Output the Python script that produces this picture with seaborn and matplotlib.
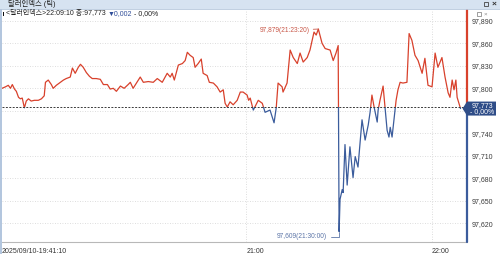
import matplotlib
matplotlib.use("Agg")
import matplotlib.pyplot as plt
import seaborn as sns
import pandas as pd
from matplotlib.patches import Rectangle, Polygon
from matplotlib.lines import Line2D
import matplotlib.transforms as mtrans

# ---------------- data ----------------
minutes_from_2100 = [
    -78.8, -77.7, -76.8, -76.1, -75.5, -74.8, -74.2, -73.5, -72.9, -72.3,
    -71.6, -71.0, -70.3, -69.4, -68.4, -67.1, -66.1, -65.2, -64.8, -63.9,
    -62.9, -62.3, -61.3, -60.0, -59.0, -58.1, -56.8, -56.1, -55.2, -54.2,
    -53.5, -52.6, -51.6, -50.6, -49.7, -48.4, -47.1, -46.1, -44.8, -43.9,
    -42.9, -41.9, -40.6, -39.4, -38.1, -37.4, -36.5, -34.2, -33.2, -31.6,
    -30.0, -28.7, -27.1, -25.5, -24.5, -23.9, -23.2, -21.9, -20.6, -19.7,
    -19.0, -18.1, -17.1, -16.5, -15.5, -14.5, -13.9, -12.6, -11.9, -10.6,
    -9.4, -8.4, -7.4, -6.8, -6.1, -5.2, -4.2, -2.9, -1.9, -1.0,
    0.3, 0.8, 1.3, 2.3, 3.9, 5.2, 6.1, 7.7, 9.0, 9.7,
    10.3, 11.6, 11.9, 13.2, 14.2, 15.2, 16.5, 17.4, 18.4, 19.7,
    20.6, 21.3, 21.9, 22.6, 23.3, 24.5, 25.5, 27.1, 28.1, 29.0,
    29.7, 30.0, 30.3, 31.0, 31.3, 31.9, 32.6, 33.5, 34.5, 35.2,
    36.1, 37.4, 38.4, 39.4, 40.0, 40.6, 41.3, 42.3, 42.6, 43.2,
    44.2, 44.8, 45.5, 46.1, 46.5, 47.1, 47.7, 48.4, 49.0, 49.7,
    50.6, 51.9, 52.6, 53.5, 54.5, 55.5, 56.8, 57.7, 58.7, 60.0,
    61.0, 61.9, 63.2, 64.2, 65.2, 65.8, 66.5, 67.1, 67.7, 68.1,
    69.2,
]
values = [
    97.800, 97.802, 97.804, 97.800, 97.805, 97.799, 97.796, 97.788, 97.786, 97.787,
    97.774, 97.783, 97.786, 97.783, 97.784, 97.784, 97.786, 97.790, 97.808, 97.811,
    97.805, 97.800, 97.804, 97.808, 97.811, 97.813, 97.815, 97.827, 97.820, 97.828,
    97.832, 97.828, 97.821, 97.816, 97.813, 97.813, 97.812, 97.805, 97.805, 97.799,
    97.800, 97.796, 97.803, 97.800, 97.805, 97.808, 97.800, 97.815, 97.808, 97.809,
    97.808, 97.813, 97.808, 97.820, 97.815, 97.820, 97.811, 97.831, 97.833, 97.837,
    97.848, 97.844, 97.841, 97.828, 97.833, 97.839, 97.820, 97.817, 97.808, 97.807,
    97.802, 97.795, 97.798, 97.780, 97.775, 97.782, 97.778, 97.784, 97.795, 97.795,
    97.791, 97.784, 97.787, 97.771, 97.784, 97.780, 97.768, 97.771, 97.754, 97.774,
    97.807, 97.802, 97.795, 97.807, 97.851, 97.841, 97.833, 97.847, 97.835, 97.841,
    97.851, 97.864, 97.875, 97.871, 97.879, 97.860, 97.853, 97.851, 97.837, 97.847,
    97.857, 97.609, 97.652, 97.665, 97.661, 97.725, 97.671, 97.722, 97.681, 97.709,
    97.695, 97.758, 97.731, 97.751, 97.768, 97.791, 97.775, 97.755, 97.771, 97.784,
    97.803, 97.775, 97.744, 97.735, 97.748, 97.735, 97.758, 97.784, 97.798, 97.808,
    97.807, 97.808, 97.873, 97.864, 97.844, 97.837, 97.820, 97.840, 97.804, 97.802,
    97.847, 97.828, 97.841, 97.815, 97.794, 97.788, 97.811, 97.798, 97.811, 97.788,
    97.773,
]
prev_close = 97.775
last_value = 97.773
ytick_values = [97.620, 97.650, 97.680, 97.710, 97.740, 97.770, 97.800, 97.830, 97.860, 97.890]
xtick_minutes = [-78.83, 0, 60]
xtick_labels = ["2025/09/10-19:41:10", "21:00", "22:00"]
high_point = (23.3, 97.879)
low_point = (30.0, 97.609)
high_label = "97,879(21:23:20)"
low_label = "97,609(21:30:00)"
window_title = "달러인덱스 (틱)"
info_parts = ["<달러인덱스>22:09:10 종:97,773 ", "▼0,002", " - 0,00%"]
last_box_lines = ["97,773", "- 0,00%"]

df = pd.DataFrame({"minute": minutes_from_2100, "value": values})

# ---------------- style ----------------
sns.set_style("white")
plt.rcParams["font.family"] = ["Liberation Sans", "Noto Sans CJK KR", "DejaVu Sans"]

RED = "#d8412c"
BLUE = "#3b5c9c"
W, H = 500, 254

def fx(px):
    return px / W

def fy(py):
    return 1 - py / H

fig = plt.figure(figsize=(5.0, 2.54), dpi=100)
fig.patch.set_facecolor("white")

ax = fig.add_axes([fx(2), fy(242), fx(465), 232 / H])
ax.set_facecolor("white")
xlim = (-78.71, 71.29)
ylim = (97.5951, 97.9044)
ax.set_xlim(*xlim)
ax.set_ylim(*ylim)

# grid
for yv in ytick_values:
    ax.axhline(yv, color="#d2d2d2", lw=0.6, ls=(0, (1, 2)), zorder=0)
for xv in xtick_minutes[1:]:
    ax.axvline(xv, color="#d2d2d2", lw=0.6, ls=(0, (1, 2)), zorder=0)

# price line, red above previous close and blue below
sns.lineplot(data=df, x="minute", y="value", color=RED, lw=0.9, sort=False,
             estimator=None, ax=ax, zorder=3)
red_line = ax.lines[-1]
red_line.set_clip_path(Rectangle((xlim[0], prev_close), xlim[1] - xlim[0],
                                 ylim[1] - prev_close, transform=ax.transData))
sns.lineplot(data=df, x="minute", y="value", color=BLUE, lw=0.9, sort=False,
             estimator=None, ax=ax, zorder=3)
blue_line = ax.lines[-1]
blue_line.set_clip_path(Rectangle((xlim[0], ylim[0]), xlim[1] - xlim[0],
                                  prev_close - ylim[0], transform=ax.transData))

# previous close dashed line
ax.axhline(prev_close, color="#3a3a3a", lw=0.7, ls=(0, (2, 1.5)), zorder=4, clip_on=False)

# right axis coloured line
frac = (prev_close - ylim[0]) / (ylim[1] - ylim[0])
ax.axvline(xlim[1], ymin=frac, ymax=1, color=RED, lw=1.6, clip_on=False, zorder=6)
ax.axvline(xlim[1], ymin=0, ymax=frac, color=BLUE, lw=1.6, clip_on=False, zorder=6)

# axes styling
for s in ["left", "top", "right"]:
    ax.spines[s].set_visible(False)
ax.spines["bottom"].set_color("#b8b8b8")
ax.spines["bottom"].set_linewidth(0.8)
ax.set_xlabel("")
ax.set_ylabel("")
ax.yaxis.tick_right()
ax.set_yticks(ytick_values)
ax.set_yticklabels([f"{v:.3f}".replace(".", ",") for v in ytick_values])
ax.tick_params(axis="y", length=0, pad=3, labelsize=5, labelcolor="#3a3a3a")
ax.set_xticks(xtick_minutes)
ax.set_xticklabels(xtick_labels)
for lab in ax.get_xticklabels():
    lab.set_ha("left")
ax.tick_params(axis="x", length=3, width=0.6, color="#888888", pad=1.5,
               labelsize=5, labelcolor="#333333")

# annotations
ax.annotate(high_label, xy=high_point, xytext=(-6, -1), textcoords="offset points",
            ha="right", va="center", fontsize=4.8, color="#c9594a",
            arrowprops=dict(arrowstyle="-", color="#c9594a", lw=0.6,
                            shrinkA=0, shrinkB=0), zorder=7)
ax.annotate(low_label, xy=low_point, xytext=(-8.5, -3.8), textcoords="offset points",
            ha="right", va="center", fontsize=4.8, color="#5d76a8",
            arrowprops=dict(arrowstyle="-", color="#5d76a8", lw=0.6,
                            shrinkA=0, shrinkB=0,
                            connectionstyle="angle,angleA=0,angleB=90,rad=0"),
            zorder=7)

# current value box (pointer) on the right axis
trans = mtrans.blended_transform_factory(fig.transFigure, ax.transData)
ybox = last_value
disp_y = ax.transData.transform((0, ybox))[1]
cy = 1 - (H - disp_y) / H  # figure fraction
cy = disp_y / H
poly = Polygon([(fx(462.5), cy), (fx(467), cy + 7 / H), (fx(496), cy + 7 / H),
                (fx(496), cy - 7 / H), (fx(467), cy - 7 / H)],
               closed=True, transform=fig.transFigure, facecolor="#2f4d88",
               edgecolor="none", zorder=10)
fig.patches.append(poly)
fig.text(fx(482), cy + 3.2 / H, last_box_lines[0], color="white", fontsize=5,
         ha="center", va="center", zorder=11)
fig.text(fx(482), cy - 3.4 / H, last_box_lines[1], color="white", fontsize=5,
         ha="center", va="center", zorder=11)

# window chrome: header, left strip
fig.patches.append(Rectangle((0, fy(8.5)), 1, 8.5 / H, transform=fig.transFigure,
                             facecolor="#d6e3f1", edgecolor="none", zorder=1))
fig.add_artist(Line2D([0, 1], [fy(8.8), fy(8.8)], color="#b5c7dc", lw=0.6,
                      transform=fig.transFigure))
fig.patches.append(Rectangle((0, 0), fx(2.2), fy(8.8), transform=fig.transFigure,
                             facecolor="#b3c6de", edgecolor="none", zorder=1))
fig.text(fx(8), fy(4.3), window_title, fontsize=5.3, color="#222222",
         ha="left", va="center")
fig.text(fx(494), fy(4.3), "×", fontsize=6, color="#333333", ha="center",
         va="center", weight="bold")
fig.patches.append(Rectangle((fx(483.5), fy(6.3)), fx(4), 4 / H, transform=fig.transFigure,
                             facecolor="none", edgecolor="#444444", lw=0.6))
fig.patches.append(Rectangle((fx(476.5), fy(16)), fx(4), 4 / H, transform=fig.transFigure,
                             facecolor="white", edgecolor="#777777", lw=0.5, zorder=8))
fig.text(fx(485.5), fy(13.8), "×", fontsize=4.5, color="#888888", ha="center",
         va="center", zorder=8)

# info line
fig.patches.append(Rectangle((fx(2.6), fy(16)), fx(1.6), 4.5 / H, transform=fig.transFigure,
                             facecolor="#111111", edgecolor="none", zorder=8))
fig.canvas.draw()
renderer = fig.canvas.get_renderer()
xpos = 6.0
colors = ["#222222", "#2f4d99", "#222222"]
for part, c in zip(info_parts, colors):
    t = fig.text(fx(xpos), fy(14), part, fontsize=5, color=c, ha="left", va="center")
    bb = t.get_window_extent(renderer)
    xpos += bb.width

fig.savefig("out.png", dpi=100, facecolor="white")
